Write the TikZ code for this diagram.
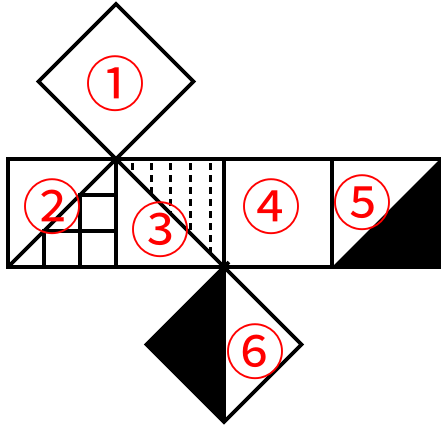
\documentclass[tikz,border=0pt]{standalone}
\usepackage{fontspec}
\newfontfamily\cjk{Noto Sans CJK SC}
\usetikzlibrary{positioning}

\begin{document}
\begin{tikzpicture}[x=1pt,y=-1pt,
  edge/.style={line width=3.8pt},
  hatch/.style={line width=3pt,dash pattern=on 7pt off 5pt},
  facelabel/.style={text=red,font=\cjk\fontsize{60}{60}\selectfont,inner sep=0pt}
]
\useasboundingbox (0,0) rectangle (441,429);

% black halves
\fill (332,267) -- (440,159) -- (440,267) -- cycle;
\fill (224,267) -- (146.5,344.5) -- (224,422) -- cycle;

% strip of four faces
\draw[edge] (8,159) rectangle (440,267);
\foreach \x in {116,224,332} \draw[edge] (\x,159) -- (\x,267);

% faces 1 and 6
\draw[edge] (116,159) -- (38.5,81.5) -- (116,4) -- (193.5,81.5) -- cycle;
\draw[edge] (224,267) -- (146.5,344.5) -- (224,422) -- (301.5,344.5) -- cycle;
\draw[edge] (224,267) -- (224,422);
\draw[edge] (224,267) -- (229,262);

% diagonals
\draw[edge] (8,267) -- (116,159);
\draw[edge] (116,159) -- (224,267);

% steps in face 2
\draw[edge] (44,267) -- (44,231) -- (116,231);
\draw[edge] (80,267) -- (80,195) -- (116,195);

% dashes in face 3
\foreach \x in {132,151,170,190,210} \draw[hatch] (\x,163) -- (\x,\x+43);

\node[facelabel] (one)   at (115,84)  {①};
\node[facelabel] (two)   at (52,207)  {②};
\node[facelabel] (three) at (160,230) {③};
\node[facelabel] (four)  at (271,207) {④};
\node[facelabel] (five)  at (362,203) {⑤};
\node[facelabel] (six)   at (255,352) {⑥};
\end{tikzpicture}
\end{document}
